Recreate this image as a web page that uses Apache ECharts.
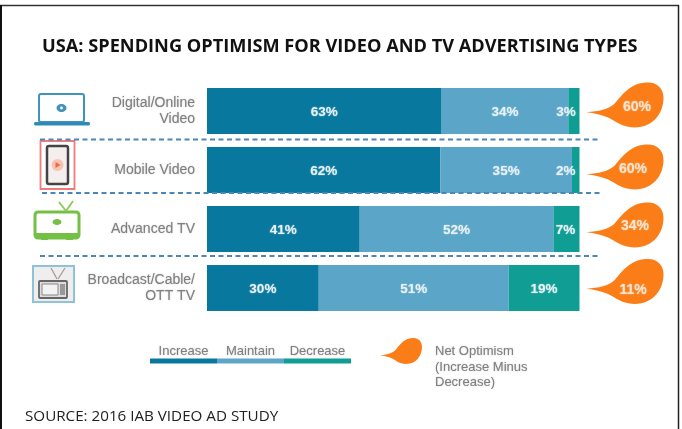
<!DOCTYPE html>
<html><head><meta charset="utf-8">
<style>html,body{margin:0;padding:0;background:#fff}#c{width:682px;height:429px}</style>
<script src="https://cdn.jsdelivr.net/npm/echarts@6/dist/echarts.min.js"></script>
</head><body><div id="c"></div>
<script>
const titleText = 'USA: SPENDING OPTIMISM FOR VIDEO AND TV ADVERTISING TYPES';
const sourceText = 'SOURCE: 2016 IAB VIDEO AD STUDY';
const categories = ['Digital/Online\nVideo', 'Mobile Video', 'Advanced TV', 'Broadcast/Cable/\nOTT TV'];
const increase = [63, 62, 41, 30];
const maintain = [34, 35, 52, 51];
const decrease = [3, 2, 7, 19];
const netOptimism = [60, 60, 34, 11];
const seriesNames = ['Increase', 'Maintain', 'Decrease'];
const netName = 'Net Optimism\n(Increase Minus\nDecrease)';

const COL = {inc: '#08789f', mai: '#5ba5c8', dec: '#0f9d94', org: '#fb7d17', txt: '#808080', dash: '#4a86b8'};
const DROP = 'path://M0 66 C16 64 28 60 37 46 C48 24 58 0 80 0 C92 0 100 14 100 34 C100 66 88 100 62 100 C46 100 38 86 28 78 C20 72 10 68 0 66 Z';
const balloonDy = [-6, -3, -4, -6.5];
const labelPos = [[12, 2], [8, 2], [10, 1], [8, 8.5]];
const smallLabelShift = {0: -8, 1: -10, 2: -1};
const soft = c => ({textShadowColor: c, textShadowBlur: 1.5});

const shares = src => src.map((v, i) => v / (increase[i] + maintain[i] + decrease[i]) * 100);
function barSeries(name, src, color, isLast) {
  const vals = shares(src);
  return {
    name, type: 'bar', stack: 'total', barWidth: 46, xAxisIndex: 0, yAxisIndex: 0,
    itemStyle: {color},
    data: vals.map((v, i) => ({
      value: v,
      label: {offset: [isLast && smallLabelShift[i] !== undefined ? smallLabelShift[i] : 0, 1]}
    })),
    label: {show: true, position: 'inside', color: '#e6f1f5', fontFamily: 'Liberation Sans', fontWeight: 'bold',
      fontSize: 13.5, ...soft('rgba(255,255,255,0.6)'), formatter: p => src[p.dataIndex] + '%'}
  };
}
function hline(y, x1, x2) {
  return {type: 'line', shape: {x1, y1: y, x2, y2: y}, z: 20,
    style: {stroke: COL.dash, lineWidth: 2, lineDash: [5, 3.5]}};
}
function frame(x1, y1, x2, y2, w, c) {
  return {type: 'line', shape: {x1, y1, x2, y2}, z: 30, style: {stroke: c || '#222', lineWidth: w || 1.5}};
}
const rect = (x, y, width, height, style, r) => ({type: 'rect', shape: {x, y, width, height, r: r || 0}, style, z: 10});
const stroke = (c, w, f) => ({stroke: c, lineWidth: w, fill: f || 'none'});
const fill = c => ({fill: c});
const seg = (x1, y1, x2, y2, c, w) => ({type: 'line', shape: {x1, y1, x2, y2}, style: {stroke: c, lineWidth: w}, z: 11});
const dot = (cx, cy, r, c) => ({type: 'circle', shape: {cx, cy, r}, style: {fill: c}, z: 12});

const icons = [
  // laptop
  rect(39, 94, 45, 28, stroke('#3f93bc', 2), 2),
  rect(34, 122, 56, 3.5, fill('#2f8ab7'), 1.5),
  {type: 'ellipse', shape: {cx: 61.5, cy: 108, rx: 5, ry: 4}, style: {fill: '#3f93bc'}, z: 12},
  dot(61.5, 108, 1.4, '#fff'),
  // phone
  rect(40.5, 141, 34, 48, stroke('#f27a7a', 1.8, '#fff')),
  rect(47, 146, 21, 38, {stroke: '#444', lineWidth: 2.5, fill: '#f4eeee'}, 2),
  dot(57.5, 165, 6, '#f7c4b4'),
  {type: 'polygon', shape: {points: [[55.5, 162], [55.5, 168], [60.5, 165]]}, style: {fill: '#ee6b3e'}, z: 13},
  // advanced TV
  seg(59, 202, 66, 211, '#8fcb5f', 2), seg(66, 211, 73, 201, '#8fcb5f', 2),
  rect(35, 212, 44, 26, stroke('#74bf45', 3, '#fff'), 3),
  rect(35, 233, 44, 5, fill('#74bf45')),
  rect(41, 238, 7, 2, fill('#74bf45')), rect(66, 238, 7, 2, fill('#74bf45')),
  {type: 'ellipse', shape: {cx: 57, cy: 222, rx: 4.5, ry: 3}, style: {fill: '#74bf45'}, z: 12},
  // broadcast TV
  rect(33, 266, 41, 36, {stroke: '#8cc3d8', lineWidth: 2, fill: '#efeeec'}),
  seg(51, 268, 57, 279, '#999', 1.2), seg(65, 268, 58, 279, '#999', 1.2),
  rect(39, 281, 28, 17, {stroke: '#666', lineWidth: 1.8, fill: '#ddd'}, 1),
  rect(42, 284, 16, 11, {stroke: '#888', lineWidth: 1, fill: '#f3f3f3'}),
  rect(60, 284, 5, 11, fill('#999'))
];

const grey = {fontFamily: 'Liberation Sans', fontSize: 13, fill: COL.txt, textShadowColor: 'rgba(128,128,128,0.5)', textShadowBlur: 1.5};
const legendCols = [COL.inc, COL.mai, COL.dec];
const legendGraphics = seriesNames.flatMap((n, i) => [
  {type: 'rect', shape: {x: 150 + i * 67, y: 358.5, width: 67, height: 5}, style: {fill: legendCols[i]}, z: 10},
  {type: 'text', x: 183.5 + i * 67, y: 351, z: 10, style: {...grey, text: n, align: 'center', verticalAlign: 'middle'}}
]);

const chart = echarts.init(document.getElementById('c'), null, {renderer: 'canvas'});
chart.setOption({
  animation: false, backgroundColor: '#fff',
  title: [{text: titleText, left: 37, top: 33, textStyle: {fontFamily: 'Open Sans', fontWeight: 'bold', fontSize: 18.2, color: '#111'}},
          {text: sourceText, left: 20, top: 404, textStyle: {fontFamily: 'Open Sans', fontWeight: 'normal', fontSize: 15.2, color: '#222'}}],
  legend: {show: false},
  grid: [{left: 207, top: 81.5, width: 372.5, height: 236},
         {left: 586, top: 81.5, width: 78, height: 236},
         {left: 380, top: 338, width: 42, height: 26}],
  xAxis: [{type: 'value', gridIndex: 0, min: 0, max: 100, show: false},
          {type: 'category', gridIndex: 1, data: ['Net Optimism'], show: false},
          {type: 'category', gridIndex: 2, data: ['Net Optimism'], show: false}],
  yAxis: [{type: 'category', gridIndex: 0, data: categories, inverse: true,
           axisLine: {show: false}, axisTick: {show: false},
           axisLabel: {color: COL.txt, fontFamily: 'Liberation Sans', fontSize: 14, lineHeight: 16, align: 'right', margin: 12,
             padding: [3, 0, 0, 0], ...soft('rgba(128,128,128,0.5)')}},
          {type: 'category', gridIndex: 1, data: categories, inverse: true, show: false},
          {type: 'category', gridIndex: 2, data: ['Key'], show: false}],
  series: [
    barSeries(seriesNames[0], increase, COL.inc, false),
    barSeries(seriesNames[1], maintain, COL.mai, false),
    barSeries(seriesNames[2], decrease, COL.dec, true),
    {name: 'Net Optimism', type: 'scatter', xAxisIndex: 1, yAxisIndex: 1, symbol: DROP, symbolKeepAspect: false,
     symbolSize: [77, 45], clip: false, z: 5,
     data: netOptimism.map((v, i) => ({
       value: ['Net Optimism', categories[i], v], symbolOffset: [0, balloonDy[i]],
       label: {offset: labelPos[i]}
     })),
     label: {show: true, position: 'inside', color: '#fbe3cc', fontFamily: 'Liberation Sans', fontWeight: 'bold', fontSize: 14,
       align: 'center', ...soft('rgba(255,255,255,0.6)'), formatter: p => netOptimism[p.dataIndex] + '%'},
     itemStyle: {color: COL.org, opacity: 1}},
    {name: 'Net Optimism key', type: 'scatter', xAxisIndex: 2, yAxisIndex: 2, symbol: DROP, symbolKeepAspect: false,
     symbolSize: [42, 26], clip: false, z: 5, silent: true, data: [['Net Optimism', 'Key']],
     itemStyle: {color: COL.org, opacity: 1}}
  ],
  graphic: [
    frame(0, 5.5, 679, 5.5, 1.5, '#333'), frame(1, 5, 1, 429, 2, '#111'), frame(678.5, 5, 678.5, 429, 1.5, '#222'),
    hline(139.5, 40, 598), hline(193, 42, 600), hline(256, 40, 598),
    ...icons, ...legendGraphics,
    {type: 'text', x: 435, y: 344, z: 10, style: {...grey, text: netName, lineHeight: 15.5, align: 'left', verticalAlign: 'top'}}
  ]
});
</script></body></html>
